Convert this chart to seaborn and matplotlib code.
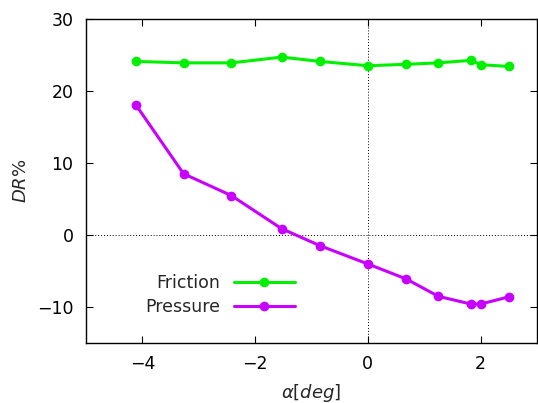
import matplotlib
matplotlib.use("Agg")
import matplotlib.pyplot as plt
import seaborn as sns
import pandas as pd

alpha = [-4.12, -3.27, -2.42, -1.53, -0.85, 0.0, 0.68, 1.25, 1.83, 2.0, 2.5]
friction = [24.1, 23.9, 23.9, 24.7, 24.1, 23.5, 23.7, 23.9, 24.25, 23.65, 23.4]
pressure = [18.1, 8.5, 5.46, 0.87, -1.49, -4.03, -6.11, -8.52, -9.6, -9.6, -8.6]
series = ["Friction", "Pressure"]
colors = ["#00f000", "#c800ff"]
xticks = [-4, -2, 0, 2]
yticks = [-10, 0, 10, 20, 30]

sns.set_style("ticks")
plt.rcParams['font.family'] = ['DejaVu Sans']
plt.rcParams['mathtext.fontset'] = 'dejavusans'

df = pd.concat([
    pd.DataFrame({"alpha": alpha, "DR": friction, "series": series[0]}),
    pd.DataFrame({"alpha": alpha, "DR": pressure, "series": series[1]}),
])

fig = plt.figure(figsize=(5.38, 4.03), dpi=100)
ax = fig.add_axes([0.160, 0.149, 0.838, 0.804])

ax.axhline(0, color="black", lw=0.7, ls=(0, (1, 2)), zorder=1)
ax.axvline(0, color="black", lw=0.7, ls=(0, (1, 2)), zorder=1)

sns.lineplot(data=df, x="alpha", y="DR", hue="series", hue_order=series,
             palette=colors, marker="o", markersize=7, markeredgewidth=0,
             linewidth=2.2, ax=ax, sort=False, zorder=3)

ax.set_xlim(-5, 3)
ax.set_ylim(-15, 30)
ax.set_xticks(xticks)
ax.set_yticks(yticks)
ax.tick_params(direction="in", top=True, right=True, length=5, width=0.8,
               labelsize=12.5, pad=9, colors="black")
for s in ax.spines.values():
    s.set_linewidth(1.0)
    s.set_color("black")
ax.set_xlabel(r"$\alpha[\mathit{deg}]$", fontsize=13, labelpad=6)
ax.set_ylabel(r"$\mathit{DR}$%", fontsize=13, labelpad=5)

handles, labels = ax.get_legend_handles_labels()
ax.legend(handles, labels, loc="center right", bbox_to_anchor=(0.463, 0.148),
          frameon=False, markerfirst=False, handlelength=3.5, fontsize=12.5,
          borderpad=0, borderaxespad=0, labelspacing=0.3, handletextpad=0.8)

fig.savefig("out.png", dpi=100)
